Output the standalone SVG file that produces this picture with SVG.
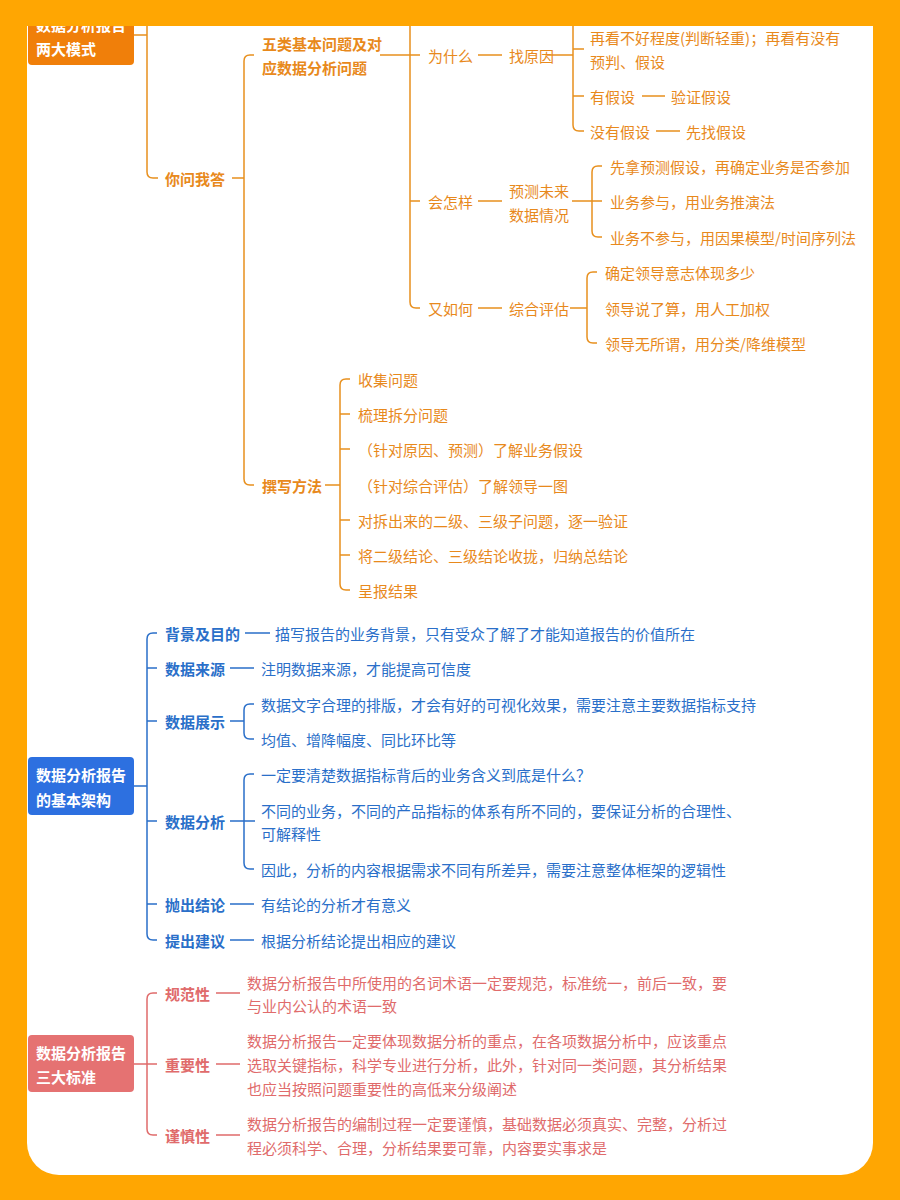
<svg xmlns="http://www.w3.org/2000/svg" width="900" height="1200" viewBox="0 0 900 1200">
<style>
text{font-family:"Noto Sans CJK SC","Noto Sans",sans-serif;font-size:15px;dominant-baseline:central}
.o{fill:#E8891C}.b{fill:#2A6FC9}.r{fill:#E06B6B}
.bd{font-weight:bold}
.w{fill:#fff;font-weight:bold}
.lo{stroke:#E8901E;fill:none;stroke-width:1.5}
.lb{stroke:#2A6FC9;fill:none;stroke-width:1.5}
.lr{stroke:#E06B6B;fill:none;stroke-width:1.5}
</style>
<rect width="900" height="1200" fill="#FFA602"/>
<rect x="27" y="-30" width="846" height="1205" rx="32" fill="#fff"/>
<g id="connectors">
<g class="lo">
<path d="M134,35 H147 M147,0 V172 Q147,178 153,178 H158"/>
<path d="M232,178 H244 M254,55 H250 Q244,55 244,61 V479 Q244,485 250,485 H254"/>
<path d="M380,55 H410 M410,0 V302 Q410,308 416,308 H420 M410,201 H420 M410,55 H420"/>
<path d="M478,55 H502 M547,55 H573 M573,0 V125 Q573,131 579,131 H584 M573,49 H584 M573,96 H584"/>
<path d="M642,96 H665 M656,131 H680"/>
<path d="M478,201 H502 M572,201 H592 M602,166 H598 Q592,166 592,172 V231 Q592,237 598,237 H602 M592,201 H602"/>
<path d="M478,308 H502 M570,308 H587 M597,272 H593 Q587,272 587,278 V337 Q587,343 593,343 H597"/>
<path d="M325,485 H340 M350,379 H346 Q340,379 340,385 V584 Q340,590 346,590 H350 M340,414 H350 M340,449 H350 M340,520 H350 M340,555 H350"/>
</g>
<g class="lb">
<path d="M134,786 H147 M157,633 H153 Q147,633 147,639 V934 Q147,940 153,940 H157 M147,668 H157 M147,721 H157 M147,821 H157 M147,904 H157"/>
<path d="M245,633 H270 M230,668 H254 M230,904 H254 M230,940 H254"/>
<path d="M230,721 H244 M254,704 H250 Q244,704 244,710 V733 Q244,739 250,739 H254"/>
<path d="M230,821 H255 M254,774 H250 Q244,774 244,780 V863 Q244,869 250,869 H254 M244,821 H254"/>
</g>
<g class="lr">
<path d="M134,1064 H147 M157,993 H153 Q147,993 147,999 V1129 Q147,1135 153,1135 H157 M147,1064 H157"/>
<path d="M216,993 H240 M216,1064 H240 M216,1135 H240"/>
</g>
</g>
<g id="root1"><rect x="28" y="-10" width="106" height="75" rx="4" fill="#F07F0A"/><text x="36" y="24" class="w">数据分析报告</text><text x="36" y="48" class="w">两大模式</text></g>
<g id="n-nwwd"><text x="165" y="178" class="o bd">你问我答</text></g>
<g id="n-wl"><text x="262" y="43" class="o bd">五类基本问题及对</text><text x="262" y="67" class="o bd">应数据分析问题</text></g>
<g id="n-zx"><text x="262" y="485" class="o bd">撰写方法</text></g>
<g id="n-wsm"><text x="428" y="55" class="o">为什么</text><text x="509" y="55" class="o">找原因</text></g>
<g id="n-a1"><text x="590" y="37" class="o">再看不好程度(判断轻重)；再看有没有</text><text x="590" y="61" class="o">预判、假设</text></g>
<g id="n-a2"><text x="590" y="96" class="o">有假设</text><text x="671" y="96" class="o">验证假设</text></g>
<g id="n-a3"><text x="590" y="131" class="o">没有假设</text><text x="686" y="131" class="o">先找假设</text></g>
<g id="n-hzy"><text x="428" y="201" class="o">会怎样</text><text x="509" y="190" class="o">预测未来</text><text x="509" y="214" class="o">数据情况</text></g>
<g id="n-b"><text x="610" y="166" class="o">先拿预测假设，再确定业务是否参加</text><text x="610" y="201" class="o">业务参与，用业务推演法</text><text x="610" y="237" class="o">业务不参与，用因果模型/时间序列法</text></g>
<g id="n-yrh"><text x="428" y="308" class="o">又如何</text><text x="509" y="308" class="o">综合评估</text></g>
<g id="n-c"><text x="605" y="272" class="o">确定领导意志体现多少</text><text x="605" y="308" class="o">领导说了算，用人工加权</text><text x="605" y="343" class="o">领导无所谓，用分类/降维模型</text></g>
<g id="n-d"><text x="358" y="379" class="o">收集问题</text><text x="358" y="414" class="o">梳理拆分问题</text><text x="358" y="449" class="o">（针对原因、预测）了解业务假设</text><text x="358" y="485" class="o">（针对综合评估）了解领导一图</text><text x="358" y="520" class="o">对拆出来的二级、三级子问题，逐一验证</text><text x="358" y="555" class="o">将二级结论、三级结论收拢，归纳总结论</text><text x="358" y="590" class="o">呈报结果</text></g>
<g id="root2"><rect x="28" y="757" width="106" height="58" rx="4" fill="#2D70E0"/><text x="36" y="774" class="w">数据分析报告</text><text x="36" y="799" class="w">的基本架构</text></g>
<g id="n-bj"><text x="165" y="633" class="b bd">背景及目的</text><text x="275" y="633" class="b">描写报告的业务背景，只有受众了解了才能知道报告的价值所在</text></g>
<g id="n-ly"><text x="165" y="668" class="b bd">数据来源</text><text x="261" y="668" class="b">注明数据来源，才能提高可信度</text></g>
<g id="n-zs"><text x="165" y="721" class="b bd">数据展示</text><text x="261" y="704" class="b">数据文字合理的排版，才会有好的可视化效果，需要注意主要数据指标支持</text><text x="261" y="739" class="b">均值、增降幅度、同比环比等</text></g>
<g id="n-fx"><text x="165" y="821" class="b bd">数据分析</text><text x="261" y="774" class="b">一定要清楚数据指标背后的业务含义到底是什么？</text><text x="261" y="810" class="b">不同的业务，不同的产品指标的体系有所不同的，要保证分析的合理性、</text><text x="261" y="833" class="b">可解释性</text><text x="261" y="869" class="b">因此，分析的内容根据需求不同有所差异，需要注意整体框架的逻辑性</text></g>
<g id="n-jl"><text x="165" y="904" class="b bd">抛出结论</text><text x="261" y="904" class="b">有结论的分析才有意义</text></g>
<g id="n-jy"><text x="165" y="940" class="b bd">提出建议</text><text x="261" y="940" class="b">根据分析结论提出相应的建议</text></g>
<g id="root3"><rect x="28" y="1035" width="106" height="57" rx="4" fill="#E57272"/><text x="36" y="1052" class="w">数据分析报告</text><text x="36" y="1076" class="w">三大标准</text></g>
<g id="n-gf"><text x="165" y="993" class="r bd">规范性</text><text x="247" y="982" class="r">数据分析报告中所使用的名词术语一定要规范，标准统一，前后一致，要</text><text x="247" y="1005" class="r">与业内公认的术语一致</text></g>
<g id="n-zy"><text x="165" y="1064" class="r bd">重要性</text><text x="247" y="1040" class="r">数据分析报告一定要体现数据分析的重点，在各项数据分析中，应该重点</text><text x="247" y="1064" class="r">选取关键指标，科学专业进行分析，此外，针对同一类问题，其分析结果</text><text x="247" y="1088" class="r">也应当按照问题重要性的高低来分级阐述</text></g>
<g id="n-js"><text x="165" y="1135" class="r bd">谨慎性</text><text x="247" y="1123" class="r">数据分析报告的编制过程一定要谨慎，基础数据必须真实、完整，分析过</text><text x="247" y="1147" class="r">程必须科学、合理，分析结果要可靠，内容要实事求是</text></g>
<rect x="0" y="0" width="900" height="26" fill="#FFA602"/>
</svg>
